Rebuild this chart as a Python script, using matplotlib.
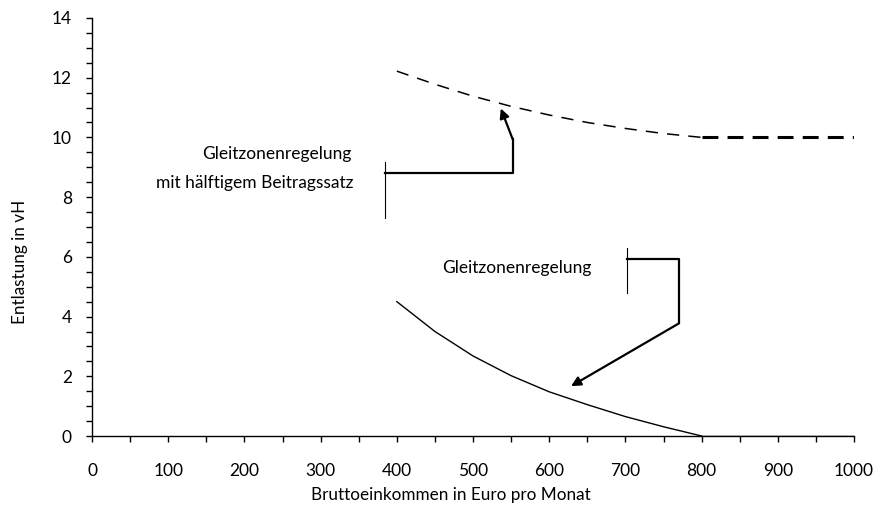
import matplotlib.pyplot as plt
from matplotlib.ticker import MultipleLocator

plt.rcParams['font.family'] = ['Lato', 'DejaVu Sans']

# Entlastung in vH je Bruttoeinkommen
einkommen = [400, 450, 500, 550, 600, 650, 700, 750, 800]
gleitzone = [4.5, 3.5, 2.68, 2.02, 1.48, 1.05, 0.65, 0.31, 0.0]
haelftig = [12.22, 11.78, 11.38, 11.04, 10.75, 10.5, 10.3, 10.13, 10.0]
einkommen_flach = [800, 1000]
haelftig_flach = [10.0, 10.0]
gleitzone_flach = [0.0, 0.0]

fig = plt.figure(figsize=(8.74, 5.08), dpi=100)
ax = fig.add_axes([0.1053, 0.1417, 0.8719, 0.8229])

ax.plot(einkommen, gleitzone, color='black', lw=1.0)
ax.plot(einkommen_flach, gleitzone_flach, color='black', lw=1.0)
ax.plot(einkommen, haelftig, color='black', lw=1.1, dashes=(8, 6))
ax.plot(einkommen_flach, haelftig_flach, color='black', lw=2.2, dashes=(5.2, 3))

ax.set_xlim(0, 1000)
ax.set_ylim(0, 14)
ax.xaxis.set_major_locator(MultipleLocator(100))
ax.xaxis.set_minor_locator(MultipleLocator(50))
ax.yaxis.set_major_locator(MultipleLocator(2))
ax.yaxis.set_minor_locator(MultipleLocator(0.5))
ax.tick_params(axis='both', which='both', direction='out', length=4.5, width=1.0, labelsize=12.5)
ax.tick_params(axis='x', which='major', pad=15)
ax.tick_params(axis='y', which='major', pad=10)
for s in ['top', 'right']:
    ax.spines[s].set_visible(False)
ax.spines['left'].set_linewidth(1.0)
ax.spines['bottom'].set_linewidth(1.0)

ax.set_xlabel('Bruttoeinkommen in Euro pro Monat', fontsize=12.3, va='center')
ax.set_ylabel('Entlastung in vH', fontsize=12.3, va='center')
ax.xaxis.set_label_coords(0.471, -0.141)
ax.yaxis.set_label_coords(-0.094, 0.416)

# Beschriftung hälftiger Beitragssatz
ax.text(243, 9.45, 'Gleitzonenregelung', ha='center', va='center', fontsize=12.5)
ax.text(213, 8.48, 'mit hälftigem Beitragssatz', ha='center', va='center', fontsize=12.5)
ax.plot([384.5, 384.5], [7.3, 9.18], color='black', lw=0.8)
ax.plot([384.5, 552, 552], [8.8, 8.8, 9.94], color='black', lw=1.6)
ax.annotate('', xy=(536.4, 10.97), xytext=(552, 9.94),
            arrowprops=dict(arrowstyle='-|>', color='black', lw=1.6, mutation_scale=14,
                            shrinkA=0, shrinkB=0))

# Beschriftung Gleitzonenregelung
ax.text(655, 5.63, 'Gleitzonenregelung', ha='right', va='center', fontsize=12.5)
ax.plot([702, 702], [4.8, 6.29], color='black', lw=0.8)
ax.plot([702, 770, 770], [5.93, 5.93, 3.77], color='black', lw=1.6)
ax.annotate('', xy=(628.6, 1.67), xytext=(770, 3.77),
            arrowprops=dict(arrowstyle='-|>', color='black', lw=1.6, mutation_scale=14,
                            shrinkA=0, shrinkB=0))

fig.savefig('out.png', dpi=100)
